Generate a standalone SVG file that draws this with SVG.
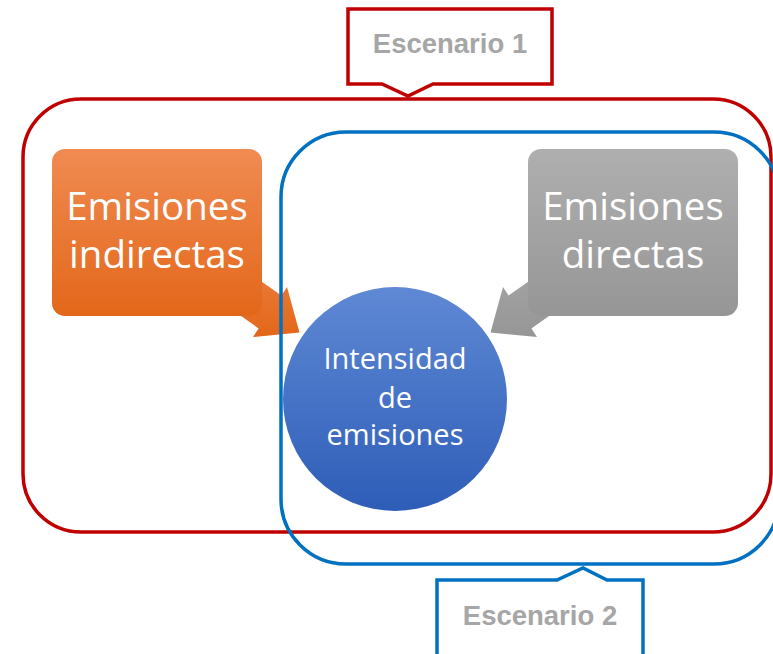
<svg xmlns="http://www.w3.org/2000/svg" width="773" height="654" viewBox="0 0 773 654">
<style>
.big{font-family:"Open Sans","Noto Sans",sans-serif;font-size:38.5px;fill:#ffffff;text-anchor:middle}
.mid{font-family:"Open Sans","Noto Sans",sans-serif;font-size:29px;fill:#ffffff;text-anchor:middle}
.lbl{font-family:"Liberation Sans",Arial,sans-serif;font-size:27.5px;font-weight:bold;fill:#A6A6A6;text-anchor:middle}
.red{fill:none;stroke:#C00000;stroke-width:3.5}
.blue{fill:none;stroke:#0070C0;stroke-width:3.5}
</style>
<defs>
<linearGradient id="gO" x1="0" y1="0" x2="0" y2="1"><stop offset="0" stop-color="#F08B52"/><stop offset="1" stop-color="#E3671A"/></linearGradient>
<linearGradient id="gG" x1="0" y1="0" x2="0" y2="1"><stop offset="0" stop-color="#AFAFAF"/><stop offset="1" stop-color="#969696"/></linearGradient>
<linearGradient id="gB" x1="0" y1="0" x2="0" y2="1"><stop offset="0" stop-color="#5F89D4"/><stop offset="1" stop-color="#2E5DB8"/></linearGradient>
</defs>
<rect width="773" height="654" fill="#ffffff"/>
<g id="connectors">
<polygon points="168.4,215.6 281.4,295.6 287,287 299.5,332.5 253,337 258.6,328.4 145.6,248.4" fill="url(#gO)"/>
<polygon points="621.6,215.6 508.6,295.6 503,287 490.5,332.5 537,337 531.4,328.4 644.4,248.4" fill="url(#gG)"/>
</g>
<g id="indirectas">
<rect x="52" y="149" width="210" height="167" rx="13" fill="url(#gO)"/>
<text class="big" x="157" y="220">Emisiones</text>
<text class="big" x="157" y="268">indirectas</text>
</g>
<g id="directas">
<rect x="528" y="149" width="210" height="167" rx="13" fill="url(#gG)"/>
<text class="big" x="633" y="220">Emisiones</text>
<text class="big" x="633" y="268">directas</text>
</g>
<g id="intensidad">
<circle cx="395" cy="399" r="112" fill="url(#gB)"/>
<text class="mid" x="395" y="369">Intensidad</text>
<text class="mid" x="395" y="408">de</text>
<text class="mid" x="395" y="445">emisiones</text>
</g>
<g id="escenario1">
<rect class="red" x="23" y="99" width="748" height="433" rx="58"/>
<path d="M348,9 L552,9 L552,84 L433,84 L408,96 L382,84 L348,84 Z" fill="#ffffff" stroke="#C00000" stroke-width="3.5"/>
<text class="lbl" x="450" y="53">Escenario 1</text>
</g>
<g id="escenario2">
<rect class="blue" x="281" y="132" width="498" height="432" rx="65"/>
<path d="M437,580 L557,580 L583,568 L607,580 L643,580 L643,660 L437,660 Z" fill="#ffffff" stroke="#0070C0" stroke-width="3.5"/>
<text class="lbl" x="540" y="625">Escenario 2</text>
</g>
</svg>
